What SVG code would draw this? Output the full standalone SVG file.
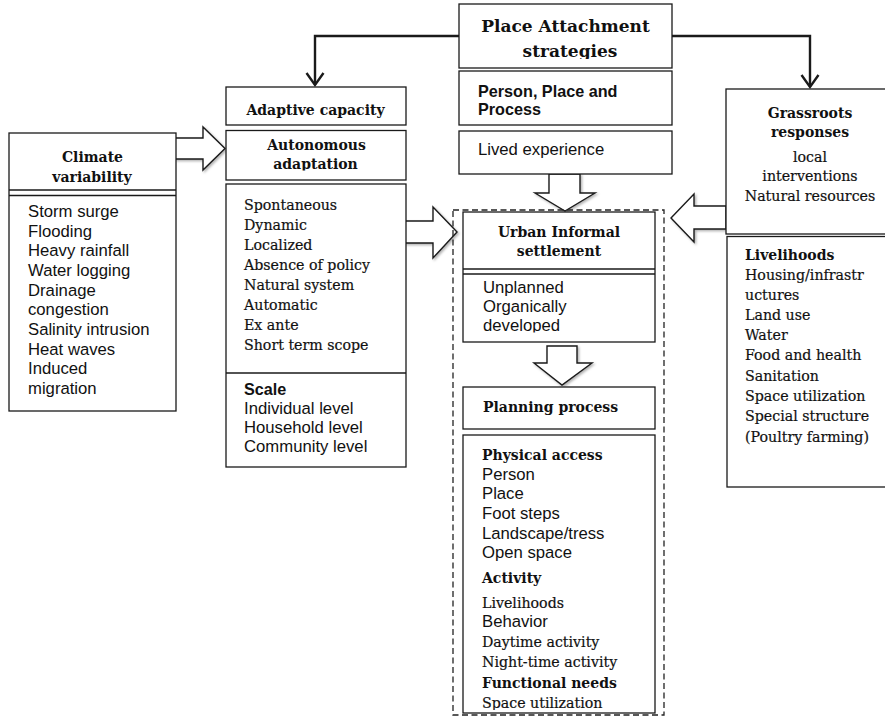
<svg xmlns="http://www.w3.org/2000/svg" width="885" height="717" viewBox="0 0 885 717">
  <style>
    .box { fill: #fff; stroke: #1a1a1a; stroke-width: 1.3; }
    .rule { stroke: #1a1a1a; stroke-width: 1.3; fill: none; }
    .dash { fill: none; stroke: #222; stroke-width: 1.3; stroke-dasharray: 6 3.5; }
    .block { fill: #fff; stroke: #1a1a1a; stroke-width: 1.4; stroke-linejoin: miter; filter: url(#shade); }
    .link { fill: none; stroke: #1a1a1a; stroke-width: 2.4; }
    .head { fill: none; stroke: #1a1a1a; stroke-width: 2.4; stroke-linejoin: miter; }
    .sb { font-family: "DejaVu Serif", serif; font-weight: bold; font-size: 14px; fill: #111; }
    .sbl { font-family: "DejaVu Serif", serif; font-weight: bold; font-size: 17px; fill: #111; }
    .sr { font-family: "DejaVu Serif", serif; font-size: 14.2px; fill: #111; stroke: #111; stroke-width: 0.2; }
    .ss { font-family: "Liberation Sans", Arial, sans-serif; font-size: 16.7px; fill: #111; }
    .ssb { font-family: "Liberation Sans", Arial, sans-serif; font-weight: bold; font-size: 16.2px; fill: #111; }
    .c { text-anchor: middle; }
  </style>
  <defs>
    <filter id="shade" x="-20%" y="-20%" width="150%" height="150%">
      <feDropShadow dx="1.5" dy="1.5" stdDeviation="1" flood-color="#000" flood-opacity="0.3"/>
    </filter>
    <clipPath id="clipTitle"><rect x="459" y="4" width="213" height="55"/></clipPath>
    <clipPath id="clipAuto"><rect x="226" y="130" width="180" height="40.5"/></clipPath>
    <clipPath id="clipUrban"><rect x="463" y="274" width="192" height="58.5"/></clipPath>
    <clipPath id="clipPlan"><rect x="463" y="435" width="192" height="275"/></clipPath>
  </defs>

  <!-- elbow connectors from the title box -->
  <g id="connectors">
    <path class="link" d="M459,36 H315 V85"/>
    <polyline class="head" points="306.5,73 315,85 323.5,73"/>
    <path class="link" d="M672,36 H810 V87"/>
    <polyline class="head" points="801.5,75 810,87 818.5,75"/>

    <!-- block arrows -->
    <polygon class="block" points="175,138 203,138 203,127 225,148.5 203,170 203,159 175,159"/>
    <polygon class="block" points="405,221 433,221 433,207 457,232 433,258 433,243 405,243"/>
    <polygon class="block" points="549,174 580,174 580,193 595,193 565,211 535,193 549,193"/>
    <polygon class="block" points="547,346 577,346 577,363 592,363 562,385 534,363 547,363"/>
    <polygon class="block" points="726,206 694,206 694,194 671,218 694,242 694,229 726,229"/>
  </g>

  <!-- title -->
  <g id="place-attachment">
    <rect class="box" x="459" y="4" width="213" height="64"/>
    <g clip-path="url(#clipTitle)">
      <text class="sbl c" x="565.5" y="32">Place Attachment</text>
      <text class="sbl c" x="570" y="57">strategies</text>
    </g>
  </g>

  <g id="person-place-process">
    <rect class="box" x="459" y="71" width="213" height="54"/>
    <text class="ssb" x="478" y="97">Person, Place and</text>
    <text class="ssb" x="478" y="115">Process</text>
  </g>

  <g id="lived-experience">
    <rect class="box" x="459" y="131" width="213" height="43"/>
    <text class="ss" x="478" y="155">Lived experience</text>
  </g>

  <!-- climate variability -->
  <g id="climate-variability">
    <rect class="box" x="9" y="133" width="167" height="278"/>
    <line class="rule" x1="9" y1="190" x2="176" y2="190"/>
    <line class="rule" x1="9" y1="195.5" x2="176" y2="195.5"/>
    <text class="sb c" x="92.5" y="162">Climate</text>
    <text class="sb c" x="92" y="182">variability</text>
    <text class="ss" x="28" y="217">Storm surge</text>
    <text class="ss" x="28" y="236.5">Flooding</text>
    <text class="ss" x="28" y="256">Heavy rainfall</text>
    <text class="ss" x="28" y="276">Water logging</text>
    <text class="ss" x="28" y="295.5">Drainage</text>
    <text class="ss" x="28" y="315">congestion</text>
    <text class="ss" x="28" y="335">Salinity intrusion</text>
    <text class="ss" x="28" y="354.5">Heat waves</text>
    <text class="ss" x="28" y="374">Induced</text>
    <text class="ss" x="28" y="393.5">migration</text>
  </g>

  <!-- adaptive capacity column -->
  <g id="adaptive-capacity">
    <rect class="box" x="226" y="87" width="180" height="38"/>
    <text class="sb c" x="315.5" y="115">Adaptive capacity</text>
  </g>

  <g id="autonomous-adaptation">
    <rect class="box" x="226" y="130.5" width="180" height="49.5"/>
    <g clip-path="url(#clipAuto)">
      <text class="sb c" x="316.5" y="150">Autonomous</text>
      <text class="sb c" x="315.5" y="168.5">adaptation</text>
    </g>
  </g>

  <g id="adaptation-traits">
    <rect class="box" x="226" y="184" width="180" height="283"/>
    <line class="rule" x1="226" y1="373" x2="406" y2="373"/>
    <text class="sr" x="244" y="210">Spontaneous</text>
    <text class="sr" x="244" y="230">Dynamic</text>
    <text class="sr" x="244" y="250">Localized</text>
    <text class="sr" x="244" y="270">Absence of policy</text>
    <text class="sr" x="244" y="290">Natural system</text>
    <text class="sr" x="244" y="310">Automatic</text>
    <text class="sr" x="244" y="330">Ex ante</text>
    <text class="sr" x="244" y="350">Short term scope</text>
    <text class="ssb" x="244" y="395">Scale</text>
    <text class="ss" x="244" y="414">Individual level</text>
    <text class="ss" x="244" y="433">Household level</text>
    <text class="ss" x="244" y="452">Community level</text>
  </g>

  <!-- settlement and planning column -->
  <g id="settlement-frame">
    <rect class="dash" x="453" y="210" width="211" height="505"/>
  </g>

  <g id="urban-informal-settlement">
    <rect class="box" x="463" y="212" width="192" height="130"/>
    <line class="rule" x1="463" y1="269" x2="655" y2="269"/>
    <line class="rule" x1="463" y1="274" x2="655" y2="274"/>
    <text class="sb c" x="559" y="237">Urban Informal</text>
    <text class="sb c" x="559" y="256">settlement</text>
    <g clip-path="url(#clipUrban)">
      <text class="ss" x="483" y="293">Unplanned</text>
      <text class="ss" x="483" y="312">Organically</text>
      <text class="ss" x="483" y="330.5">developed</text>
    </g>
  </g>

  <g id="planning-process">
    <rect class="box" x="463" y="387" width="192" height="42"/>
    <text class="sb" x="483" y="412">Planning process</text>
  </g>

  <g id="planning-factors">
    <rect class="box" x="463" y="435" width="192" height="278"/>
    <g clip-path="url(#clipPlan)">
      <text class="sb" x="482" y="460">Physical access</text>
      <text class="ss" x="482" y="479.5">Person</text>
      <text class="ss" x="482" y="499">Place</text>
      <text class="ss" x="482" y="519">Foot steps</text>
      <text class="ss" x="482" y="538.5">Landscape/tress</text>
      <text class="ss" x="482" y="558">Open space</text>
      <text class="sb" x="482" y="583">Activity</text>
      <text class="sr" x="482" y="607.5">Livelihoods</text>
      <text class="ss" x="482" y="627">Behavior</text>
      <text class="sr" x="482" y="647">Daytime activity</text>
      <text class="sr" x="482" y="667">Night-time activity</text>
      <text class="sb" x="482" y="688">Functional needs</text>
      <text class="sr" x="482" y="708">Space utilization</text>
    </g>
  </g>

  <!-- grassroots column -->
  <g id="grassroots-responses">
    <rect class="box" x="726" y="89" width="170" height="145"/>
    <text class="sb c" x="810" y="118">Grassroots</text>
    <text class="sb c" x="810" y="137">responses</text>
    <text class="sr c" x="810" y="162">local</text>
    <text class="sr c" x="810" y="181">interventions</text>
    <text class="sr c" x="810" y="201">Natural resources</text>
  </g>

  <g id="livelihoods">
    <rect class="box" x="727" y="236.5" width="170" height="250.5"/>
    <text class="sb" x="745" y="260">Livelihoods</text>
    <text class="sr" x="745" y="280">Housing/infrastr</text>
    <text class="sr" x="745" y="300">uctures</text>
    <text class="sr" x="745" y="320">Land use</text>
    <text class="sr" x="745" y="340">Water</text>
    <text class="sr" x="745" y="360">Food and health</text>
    <text class="sr" x="745" y="381">Sanitation</text>
    <text class="sr" x="745" y="401">Space utilization</text>
    <text class="sr" x="745" y="421">Special structure</text>
    <text class="sr" x="745" y="442">(Poultry farming)</text>
  </g>
</svg>
